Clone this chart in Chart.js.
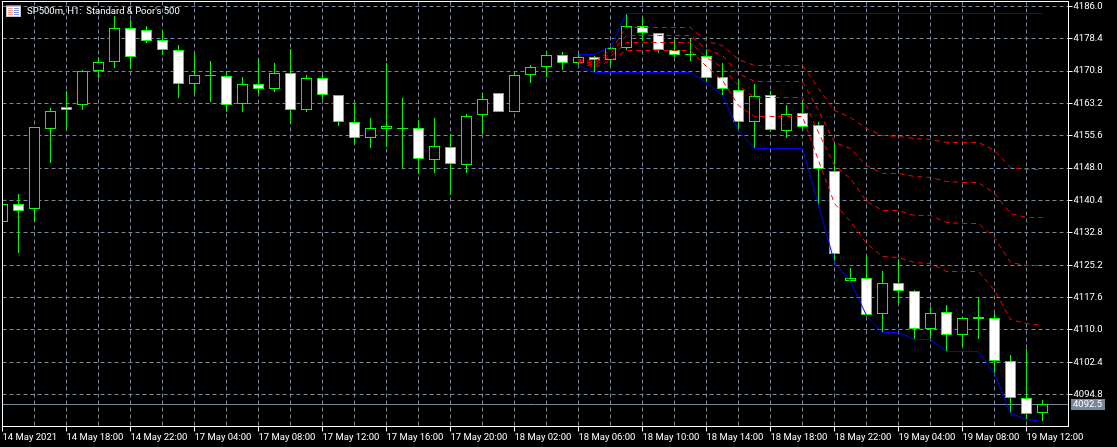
<!DOCTYPE html>
<html>
<head>
<meta charset="utf-8">
<title>SP500m H1</title>
<script src="https://cdn.jsdelivr.net/npm/chart.js@4"></script>
<style>
html, body { margin: 0; padding: 0; background: #000; overflow: hidden; }
canvas { display: block; }
</style>
</head>
<body>
<canvas id="grafico" width="1117" height="447"></canvas>
<script>
const opens = [4135.39,4139.48,4138.30,4157.25,4162.28,4162.75,4170.74,4173.00,4180.85,4180.38,4178.03,4175.68,4167.69,4169.80,4169.57,4162.99,4167.69,4166.51,4170.27,4161.58,4169.10,4165.10,4158.76,4154.99,4157.11,4157.34,4157.34,4149.82,4152.88,4148.65,4160.40,4165.57,4161.11,4169.80,4171.68,4174.51,4172.62,4174.03,4173.33,4176.15,4181.32,4179.68,4175.68,4174.74,4174.27,4169.33,4166.28,4158.76,4165.10,4156.64,4160.87,4158.05,4147.24,4121.38,4122.08,4113.62,4120.91,4119.03,4110.10,4114.09,4108.68,4112.92,4112.68,4102.57,4093.88,4090.35];
const highs = [4140.49,4141.90,4157.58,4162.12,4166.04,4171.05,4174.03,4183.74,4182.80,4181.39,4180.45,4176.93,4174.81,4173.17,4170.74,4169.33,4173.40,4172.69,4175.92,4169.80,4169.80,4165.10,4162.99,4159.77,4172.62,4164.47,4159.23,4159.77,4155.93,4160.64,4165.57,4165.57,4170.27,4172.15,4175.35,4175.28,4174.74,4174.27,4176.62,4184.28,4183.27,4179.68,4178.27,4178.27,4175.92,4172.62,4168.86,4167.76,4166.04,4162.75,4163.69,4158.83,4153.82,4124.51,4127.40,4123.73,4126.55,4119.26,4115.27,4115.74,4112.92,4117.38,4113.86,4103.98,4105.39,4093.41];
const lows = [4134.85,4128.03,4135.39,4149.26,4157.02,4161.72,4169.24,4171.59,4171.36,4177.40,4174.51,4164.54,4165.48,4163.60,4161.25,4161.25,4165.57,4165.95,4158.43,4161.25,4164.16,4157.96,4153.72,4152.78,4153.02,4148.08,4146.67,4146.91,4141.60,4146.91,4155.93,4161.11,4161.11,4168.06,4169.47,4171.12,4172.15,4170.65,4172.15,4175.68,4177.80,4175.12,4174.03,4173.24,4168.30,4165.10,4156.87,4152.64,4156.48,4155.14,4157.25,4139.41,4125.92,4121.38,4113.39,4109.53,4116.21,4107.75,4107.98,4104.92,4106.00,4107.89,4099.75,4090.35,4088.94,4088.61];
const closes = [4139.55,4137.98,4157.58,4161.34,4161.58,4170.74,4172.86,4180.85,4174.03,4177.80,4175.68,4167.69,4169.80,4169.57,4162.75,4167.69,4166.51,4170.27,4161.58,4169.10,4165.10,4158.76,4154.99,4157.34,4157.81,4157.11,4150.06,4153.11,4148.88,4160.17,4164.16,4161.11,4169.80,4171.68,4174.51,4172.62,4174.03,4173.33,4176.15,4181.32,4179.68,4175.68,4174.51,4174.51,4169.10,4166.51,4158.76,4164.87,4156.87,4160.64,4157.58,4147.71,4127.73,4122.08,4113.39,4120.91,4119.03,4110.10,4113.86,4108.68,4112.68,4112.45,4102.57,4093.88,4090.11,4092.50];

// las bandas empiezan en la vela 36
const bandStart = 36;
const bandUpper = [4174.74,4174.74,4176.62,4184.45,4184.45,4184.45,4184.45,4184.45,4184.45,4184.45,4184.45,4184.45,4184.45,4184.45,4184.45,4184.45,4184.45,4184.45,4184.45,4184.45,4184.45,4184.45,4184.45,4184.45,4184.45,4184.45,4184.45,4184.45,4184.45,4184.45];
const bandLower = [4172.15,4170.65,4170.65,4170.65,4170.65,4170.65,4170.65,4170.65,4168.30,4165.10,4156.87,4152.64,4152.64,4152.64,4152.64,4139.41,4125.92,4121.38,4113.39,4109.53,4109.53,4107.75,4107.75,4104.92,4104.92,4104.92,4099.75,4090.35,4088.94,4088.61];
const fibA = [4173.75,4173.17,4175.75,4181.10,4181.10,4181.10,4181.10,4181.10,4177.87,4176.93,4173.64,4172.15,4172.15,4172.15,4172.15,4166.75,4161.65,4160.07,4157.34,4155.77,4155.61,4154.99,4154.90,4154.05,4154.05,4154.05,4152.24,4148.32,4147.85,4147.71];
const fibB = [4173.52,4172.69,4175.05,4179.21,4179.21,4179.21,4179.21,4179.21,4175.92,4174.58,4170.34,4168.39,4168.39,4168.39,4168.39,4161.65,4154.19,4152.64,4148.72,4146.77,4146.77,4146.13,4145.97,4145.03,4144.65,4144.65,4142.07,4137.36,4136.56,4136.49];
const fibC = [4173.17,4172.22,4174.34,4177.56,4177.56,4177.56,4177.56,4177.56,4174.03,4171.83,4167.52,4164.63,4164.63,4164.63,4164.63,4156.48,4148.72,4145.66,4140.26,4138.07,4138.07,4136.89,4136.89,4135.25,4135.15,4135.15,4131.86,4125.99,4125.28,4125.14];
const fibD = [4172.93,4171.87,4173.40,4175.68,4175.68,4175.68,4175.68,4175.68,4171.99,4168.70,4162.82,4160.17,4160.17,4160.17,4160.17,4149.89,4139.79,4135.62,4130.31,4127.33,4127.16,4125.85,4125.75,4123.80,4123.80,4123.80,4119.33,4112.52,4111.65,4111.18];

const xLabels = ['14 May 2021','14 May 18:00','14 May 22:00','17 May 04:00','17 May 08:00','17 May 12:00','17 May 16:00','17 May 20:00','18 May 02:00','18 May 06:00','18 May 10:00','18 May 14:00','18 May 18:00','18 May 22:00','19 May 04:00','19 May 08:00','19 May 12:00'];
const yTicks = [4186.0,4178.4,4170.8,4163.2,4155.6,4148.0,4140.4,4132.8,4125.2,4117.6,4110.0,4102.4,4094.8];
const lastPrice = 4092.5;
const titulo = "SP500m, H1:  Standard & Poor's 500";

const fuente = 'Roboto, "Liberation Sans", sans-serif';
const tamFuente = 9.5;
const GRIS = '#778899';
const VERDE = '#00ff00';
const xMax = 66.625;

function serieBanda(valores) {
    return valores.map(function (v, k) { return {x: bandStart + k, y: v}; });
}

function lineaRoja(valores) {
    return {type: 'line', data: serieBanda(valores), borderColor: '#ff0000', borderWidth: 1, borderDash: [5, 4], pointRadius: 0, tension: 0, order: 1};
}

function lineaAzul(valores) {
    return {type: 'line', data: serieBanda(valores), borderColor: '#0000ff', borderWidth: 1, pointRadius: 0, tension: 0, order: 2};
}

// velas y lineas pegadas al pixel para que no salgan borrosas
const nitido = {
    id: 'nitido',
    afterDatasetsUpdate: function (chart) {
        chart.data.datasets.forEach(function (ds, i) {
            chart.getDatasetMeta(i).data.forEach(function (el) {
                if (ds.type == 'bar') {
                    el.y = Math.round(el.y);
                    el.base = Math.round(el.base);
                } else {
                    el.y = Math.round(el.y) + 0.5;
                }
            });
        });
    }
};

const marco = {
    id: 'marco',
    afterDraw: function (chart) {
        const ctx = chart.ctx;
        const a = chart.chartArea;
        ctx.save();
        ctx.strokeStyle = '#ffffff';
        ctx.lineWidth = 1;
        ctx.strokeRect(a.left, a.top, a.right - a.left, a.bottom - a.top);

        // icono del titulo
        ctx.fillStyle = '#c8c8c8';
        ctx.fillRect(6, 6, 15, 11);
        ctx.fillStyle = '#ffffff';
        ctx.fillRect(7, 7, 13, 9);
        ctx.fillStyle = '#6a6ae0';
        ctx.fillRect(6, 5, 15, 1);
        for (let f = 0; f < 4; f++) {
            ctx.fillStyle = '#f0a090';
            ctx.fillRect(8, 8 + f * 2, 5, 1);
            ctx.fillStyle = '#8090e8';
            ctx.fillRect(14, 8 + f * 2, 5, 1);
        }

        ctx.fillStyle = '#ffffff';
        ctx.font = tamFuente + 'px ' + fuente;
        ctx.textBaseline = 'middle';
        ctx.textAlign = 'left';
        ctx.fillText(titulo, 27, 12);

        // etiqueta del precio actual
        const y = chart.scales.y.getPixelForValue(lastPrice);
        ctx.fillStyle = GRIS;
        ctx.fillRect(1071, Math.round(y) - 5, 34, 11);
        ctx.fillStyle = '#ffffff';
        ctx.fillText(lastPrice.toFixed(1), 1073, y + 0.5);
        ctx.restore();
    }
};

new Chart(document.getElementById('grafico'), {
    data: {
        datasets: [
            lineaRoja(fibA), lineaRoja(fibB), lineaRoja(fibC), lineaRoja(fibD),
            lineaAzul(bandUpper), lineaAzul(bandLower),
            {
                type: 'bar',
                data: opens.map(function (o, i) { return {x: i, y: [o, closes[i]]}; }),
                barThickness: 11,
                grouped: false,
                backgroundColor: opens.map(function (o, i) { return closes[i] >= o ? '#000000' : '#ffffff'; }),
                borderColor: VERDE,
                borderWidth: 1,
                borderSkipped: false,
                inflateAmount: 0,
                order: 4
            },
            {
                type: 'bar',
                data: lows.map(function (l, i) { return {x: i, y: [l, highs[i]]}; }),
                barThickness: 1,
                grouped: false,
                backgroundColor: VERDE,
                borderWidth: 0,
                inflateAmount: 0,
                order: 5
            },
            {
                type: 'line',
                data: [{x: 0, y: lastPrice}, {x: xMax, y: lastPrice}],
                borderColor: GRIS,
                borderWidth: 1,
                pointRadius: 0,
                order: 6
            }
        ]
    },
    options: {
        responsive: false,
        animation: false,
        events: [],
        layout: {padding: {left: 2.5, top: 1.5, right: 0, bottom: 0}},
        plugins: {legend: {display: false}, tooltip: {enabled: false}, title: {display: false}},
        scales: {
            x: {
                type: 'linear',
                offset: false,
                min: 0,
                max: xMax,
                afterBuildTicks: function (scale) {
                    let t = [];
                    for (let i = 0; i <= 64; i += 2) t.push({value: i});
                    scale.ticks = t;
                },
                afterFit: function (scale) {
                    scale.height = 20.5;
                    scale.paddingLeft = 0;
                    scale.paddingRight = 0;
                },
                grid: {
                    offset: false,
                    color: GRIS,
                    lineWidth: 1,
                    tickLength: 5,
                    tickWidth: 1,
                    tickColor: function (c) { return c.tick && c.tick.value % 4 == 0 ? '#ffffff' : 'rgba(0,0,0,0)'; }
                },
                border: {display: false, dash: [4, 3]},
                ticks: {
                    autoSkip: false,
                    maxRotation: 0,
                    align: 'start',
                    padding: 0,
                    color: '#ffffff',
                    font: {family: fuente, size: tamFuente},
                    callback: function (v) { return v % 4 == 0 ? xLabels[v / 4] : ''; }
                }
            },
            y: {
                position: 'right',
                min: 4087.28,
                max: 4187.15,
                afterBuildTicks: function (scale) {
                    scale.ticks = yTicks.map(function (v) { return {value: v}; });
                },
                afterFit: function (scale) {
                    scale.width = 48.5;
                    scale.paddingTop = 0;
                    scale.paddingBottom = 0;
                },
                grid: {color: GRIS, lineWidth: 1, tickLength: 4, tickWidth: 1, tickColor: '#ffffff'},
                border: {display: false, dash: [4, 3]},
                ticks: {
                    padding: 1,
                    color: '#ffffff',
                    font: {family: fuente, size: tamFuente},
                    callback: function (v) { return v.toFixed(1); }
                }
            }
        }
    },
    plugins: [nitido, marco]
});
</script>
</body>
</html>
